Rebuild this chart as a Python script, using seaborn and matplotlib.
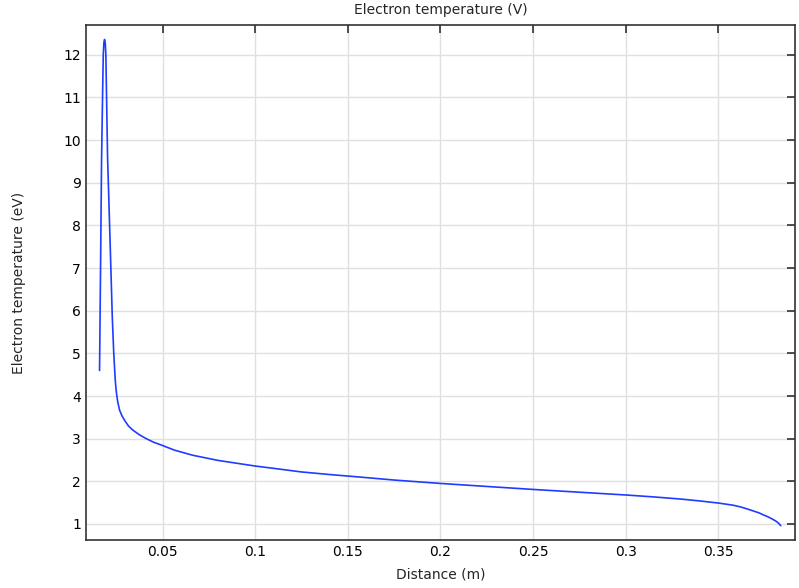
import numpy as np
import pandas as pd
import seaborn as sns
import matplotlib
matplotlib.use("Agg")
import matplotlib.pyplot as plt

# values
distance = [0.01593, 0.01647, 0.01701, 0.01755, 0.01793, 0.01825, 0.01863, 0.01901,
            0.01934, 0.01972, 0.02026, 0.02150, 0.02280, 0.02360, 0.02442, 0.02485,
            0.02529, 0.02580, 0.02674, 0.02800, 0.02945, 0.03150, 0.03394, 0.03750,
            0.04118, 0.04500, 0.04930, 0.05649, 0.06639, 0.0800, 0.09976, 0.1125,
            0.1250, 0.1400, 0.15654, 0.1750, 0.2002, 0.2250, 0.2500, 0.2750,
            0.3000, 0.3150, 0.3296, 0.3400, 0.3502, 0.3580, 0.3620, 0.3658,
            0.3720, 0.3745, 0.3767, 0.3790, 0.3810, 0.3825, 0.3837]
temperature = [4.60, 7.00, 9.52, 11.00, 12.00, 12.28, 12.36, 12.28,
               12.00, 11.00, 9.60, 7.80, 5.86, 5.00, 4.37, 4.15,
               4.00, 3.85, 3.67, 3.54, 3.43, 3.30, 3.20, 3.09,
               3.00, 2.92, 2.85, 2.73, 2.61, 2.49, 2.36, 2.29,
               2.22, 2.16, 2.10, 2.03, 1.95, 1.88, 1.81, 1.745,
               1.68, 1.635, 1.585, 1.54, 1.49, 1.44, 1.40, 1.35,
               1.26, 1.21, 1.17, 1.12, 1.07, 1.02, 0.96]
x_ticks = [0.05, 0.1, 0.15, 0.2, 0.25, 0.3, 0.35]
x_labels = ["0.05", "0.1", "0.15", "0.2", "0.25", "0.3", "0.35"]
y_ticks = list(range(1, 13))

df = pd.DataFrame({"Distance": distance, "Te": temperature})

sns.set_style("white")
plt.rcParams['font.family'] = ['DejaVu Sans']

fig = plt.figure(figsize=(7.99, 5.88), dpi=100)
ax = fig.add_axes([0.1076, 0.0816, 0.8874, 0.8759])

sns.lineplot(data=df, x="Distance", y="Te", sort=False, estimator=None,
             color="#1f3cff", linewidth=1.2, ax=ax)

ax.set_xlim(0.0086, 0.3914)
ax.set_ylim(0.624, 12.70)
ax.set_xticks(x_ticks)
ax.set_xticklabels(x_labels)
ax.set_yticks(y_ticks)

ax.grid(True, color="#e0e0e0", linewidth=1)
ax.set_axisbelow(True)
ax.tick_params(direction="in", length=6, width=1.2, top=True, right=True,
               labelsize=10, colors="#333333", labelcolor="black")
for s in ax.spines.values():
    s.set_color("#333333")
    s.set_linewidth(1.2)

ax.set_xlabel("Distance (m)", fontsize=10, labelpad=6)
ax.set_ylabel("Electron temperature (eV)", fontsize=10, labelpad=27)
ax.set_title("Electron temperature (V)", fontsize=10, pad=8)

fig.savefig("out.png", dpi=100)
